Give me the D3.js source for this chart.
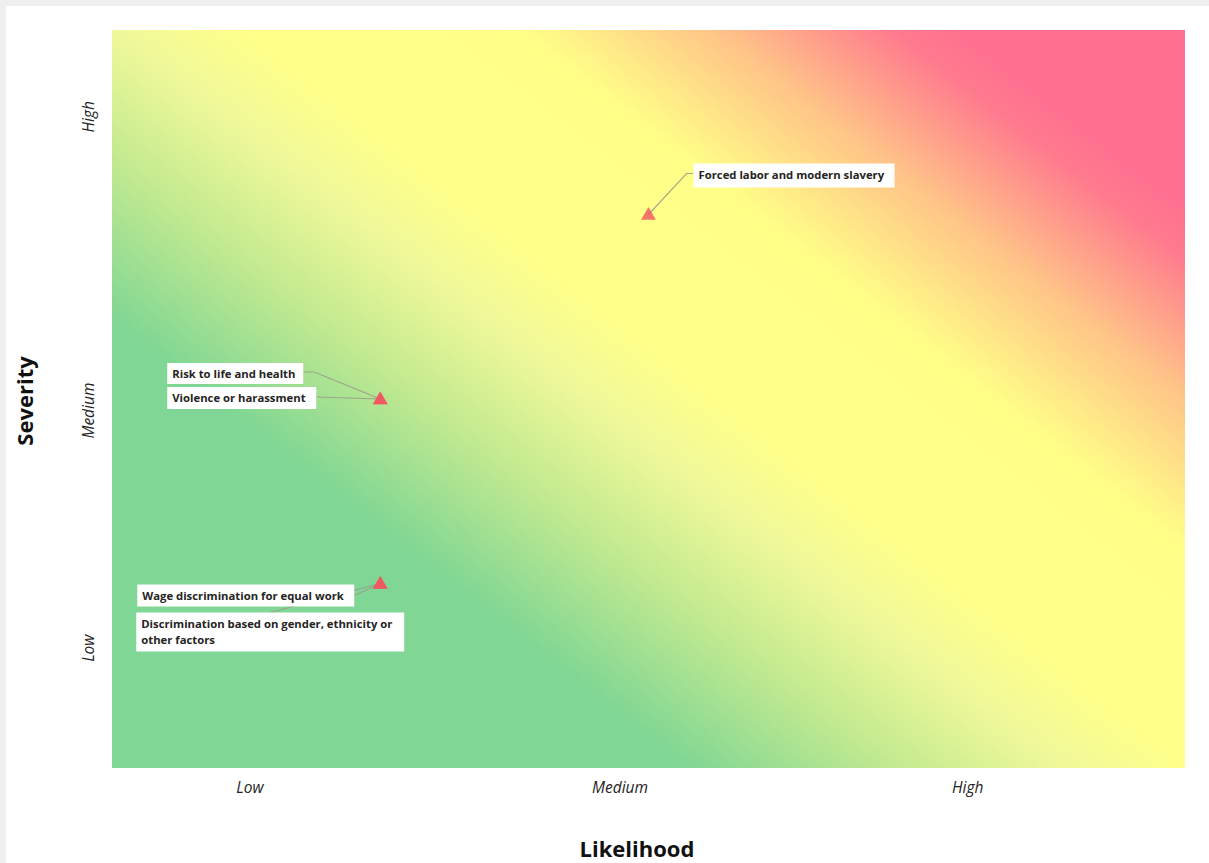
<!DOCTYPE html>
<html>
<head>
<meta charset="utf-8">
<script src="https://cdn.jsdelivr.net/npm/d3@7"></script>
<style>
  html, body { margin: 0; padding: 0; background: #fff; }
  svg { display: block; font-family: "Open Sans", "Noto Sans", sans-serif; }
</style>
</head>
<body>
<div id="chart"></div>
<script>
// risk matrix data (0-10 scale on both axes)
const risks = ["Forced labor and modern slavery", "Risk to life and health", "Violence or harassment",
  "Wage discrimination for equal work", "Discrimination based on gender, ethnicity or other factors"];
const likelihood = [5, 2.5, 2.5, 2.5, 2.5];
const severity = [7.5, 5, 5, 2.5, 2.5];

const tickLabels = ["Low", "Medium", "High"];
const likelihoodTicks = [1.28, 4.73, 7.97];
const severityTicks = [1.63, 4.85, 8.83];

// label box placement relative to the marker (layout only)
const labelLayout = [
  { dx: 45, dy: -51, w: 201, h: 24, lines: ["Forced labor and modern slavery"], ax: 0, ay: 10, bend: [38, -41] },
  { dx: -213, dy: -36, w: 136, h: 21, lines: ["Risk to life and health"], ax: 136, ay: 9, bend: [-66, -27] },
  { dx: -213, dy: -12, w: 149, h: 22, lines: ["Violence or harassment"], ax: 149, ay: 10, bend: null },
  { dx: -243, dy: 1, w: 217, h: 22, lines: ["Wage discrimination for equal work"], ax: 217, ay: 11, bend: null },
  { dx: -244, dy: 29, w: 268, h: 39, lines: ["Discrimination based on gender, ethnicity or", "other factors"], ax: 134, ay: 0, bend: null }
];

const width = 1209, height = 863;
const margin = { top: 30, right: 24, bottom: 95, left: 112 };
const innerW = width - margin.left - margin.right;
const innerH = height - margin.top - margin.bottom;

const svg = d3.select("#chart").append("svg")
  .attr("width", width)
  .attr("height", height);

// page frame
svg.append("rect").attr("width", width).attr("height", height).attr("fill", "#efefef");
svg.append("rect").attr("x", 6).attr("y", 6).attr("width", width - 6).attr("height", height - 6).attr("fill", "#fff");

const x = d3.scaleLinear().domain([0, 10]).range([0, innerW]);
const y = d3.scaleLinear().domain([0, 10]).range([innerH, 0]);

const g = svg.append("g").attr("transform", `translate(${margin.left},${margin.top})`);

// diagonal heat gradient, green bottom-left to red top-right
const dir = [0.615, -0.789];
const len = 1242;
const grad = svg.append("defs").append("linearGradient")
  .attr("id", "heat")
  .attr("gradientUnits", "userSpaceOnUse")
  .attr("x1", 0).attr("y1", innerH)
  .attr("x2", dir[0] * len).attr("y2", innerH + dir[1] * len);

const stops = [
  [0.0, "#80d694"], [0.285, "#80d694"], [0.39, "#c4ea90"], [0.47, "#eff89a"],
  [0.533, "#ffff8a"], [0.67, "#ffff88"], [0.767, "#ffc488"], [0.855, "#ff7a8e"],
  [0.887, "#ff7090"], [1.0, "#ff7090"]
];
grad.selectAll("stop").data(stops).enter().append("stop")
  .attr("offset", d => d[0])
  .attr("stop-color", d => d[1]);

g.append("rect")
  .attr("width", innerW)
  .attr("height", innerH)
  .attr("fill", "url(#heat)");

// axes
const xAxis = d3.axisBottom(x).tickValues(likelihoodTicks).tickFormat((d, i) => tickLabels[i]).tickSize(0).tickPadding(14);
const gx = g.append("g").attr("transform", `translate(0,${innerH})`).call(xAxis);
gx.select(".domain").remove();
gx.selectAll("text").attr("font-size", 15.5).attr("font-style", "italic").attr("fill", "#252423")
  .attr("font-family", "Open Sans, sans-serif");

const yAxis = d3.axisLeft(y).tickValues(severityTicks).tickFormat((d, i) => tickLabels[i]).tickSize(0).tickPadding(18);
const gy = g.append("g").call(yAxis);
gy.select(".domain").remove();
gy.selectAll(".tick text")
  .attr("font-size", 15.5).attr("font-style", "italic").attr("fill", "#252423")
  .attr("font-family", "Open Sans, sans-serif")
  .attr("text-anchor", "middle")
  .attr("dy", 0)
  .attr("x", 0)
  .attr("transform", "translate(-18,0) rotate(-90)");

svg.append("text")
  .attr("x", 637)
  .attr("y", 857)
  .attr("text-anchor", "middle")
  .attr("font-size", 22)
  .attr("font-weight", "bold")
  .attr("fill", "#111")
  .text("Likelihood");

svg.append("text")
  .attr("transform", `translate(33,401) rotate(-90)`)
  .attr("text-anchor", "middle")
  .attr("font-size", 22)
  .attr("font-weight", "bold")
  .attr("fill", "#111")
  .text("Severity");

// annotations
const items = risks.map((r, i) => ({ name: r, lx: likelihood[i], sv: severity[i], lay: labelLayout[i] }));

const ann = g.append("g");
items.forEach(d => {
  const px = x(d.lx), py = y(d.sv);
  const L = d.lay;
  const ax = px + L.dx + L.ax, ay = py + L.dy + L.ay;
  const pts = [[ax, ay]];
  if (L.bend) pts.push([px + L.bend[0], py + L.bend[1]]);
  pts.push([px, py]);
  ann.append("path")
    .attr("d", d3.line()(pts))
    .attr("fill", "none")
    .attr("stroke", "#9a9a8a")
    .attr("stroke-width", 1.2)
    .attr("opacity", 0.85);
});

items.forEach(d => {
  const px = x(d.lx), py = y(d.sv);
  const L = d.lay;
  const bx = px + L.dx, by = py + L.dy;
  ann.append("rect")
    .attr("x", bx).attr("y", by)
    .attr("width", L.w).attr("height", L.h)
    .attr("fill", "#fff");
  const t = ann.append("text")
    .attr("font-size", 11.3)
    .attr("font-weight", "bold")
    .attr("fill", "#252423");
  L.lines.forEach((line, j) => {
    t.append("tspan")
      .attr("x", bx + 5)
      .attr("y", by + 15 + j * 16)
      .text(line);
  });
});

// markers
g.selectAll(".marker")
  .data(items)
  .enter()
  .append("path")
  .attr("class", "marker")
  .attr("d", d3.symbol().type(d3.symbolTriangle).size(95))
  .attr("transform", d => `translate(${x(d.lx)},${y(d.sv) + 1})`)
  .attr("fill", "#f2545f")
  .attr("opacity", 0.8);
</script>
</body>
</html>
